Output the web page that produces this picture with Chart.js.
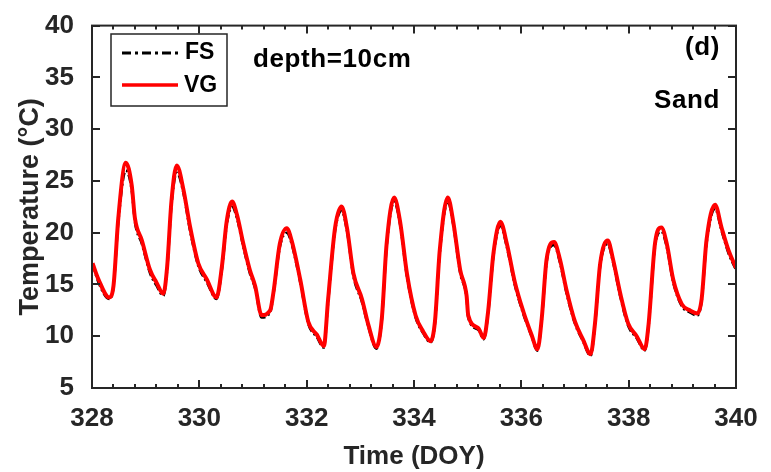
<!DOCTYPE html>
<html>
<head>
<meta charset="utf-8">
<script src="https://cdn.jsdelivr.net/npm/chart.js@4.4.1/dist/chart.umd.min.js"></script>
<style>
html, body { margin: 0; padding: 0; background: #fff; }
</style>
</head>
<body>
<canvas id="mainChart" width="771" height="472"></canvas>
<script>
// -----------------------------
// data
// -----------------------------
const doy = [
    328.01, 328.12, 328.32, 328.40, 328.49, 328.63, 328.74, 328.80, 328.93, 329.08,
    329.20, 329.33, 329.40, 329.48, 329.58, 329.70, 329.83, 329.98, 330.14, 330.32,
    330.42, 330.51, 330.61, 330.70, 330.82, 330.94, 331.04, 331.16, 331.32, 331.38,
    331.50, 331.63, 331.72, 331.88, 332.03, 332.19, 332.32, 332.40, 332.53, 332.65,
    332.75, 332.87, 333.03, 333.15, 333.30, 333.40, 333.49, 333.63, 333.74, 333.87,
    334.03, 334.17, 334.31, 334.39, 334.48, 334.63, 334.73, 334.86, 334.98, 335.01,
    335.20, 335.30, 335.38, 335.48, 335.61, 335.73, 335.88, 336.04, 336.19, 336.30,
    336.38, 336.47, 336.61, 336.72, 336.84, 337.00, 337.15, 337.29, 337.37, 337.47,
    337.61, 337.71, 337.84, 337.99, 338.15, 338.30, 338.37, 338.49, 338.61, 338.71,
    338.83, 338.99, 339.14, 339.28, 339.36, 339.45, 339.61, 339.73, 339.86, 340.00
];

const vgTemp = [
    17.05, 15.5, 13.75, 14.85, 21.4, 26.76, 24.57, 21.4, 19.24, 16.42,
    15.2, 14.1, 16.7, 23.0, 26.5, 24.26, 20.5, 17.05, 15.48, 13.75,
    16.7, 21.1, 23.0, 21.75, 18.93, 16.42, 14.85, 12.03, 12.5, 14.2,
    18.93, 20.43, 19.24, 15.48, 11.4, 10.15, 9.05, 13.6, 20.5, 22.53,
    20.5, 16.1, 13.6, 11.1, 8.96, 11.7, 18.93, 23.4, 21.1, 16.0,
    12.0, 10.46, 9.52, 11.4, 18.3, 23.4, 21.1, 16.42, 13.9, 12.03,
    10.77, 9.83, 12.34, 18.0, 21.06, 18.93, 15.2, 12.34, 10.15, 8.74,
    11.7, 17.4, 19.1, 17.4, 14.5, 11.4, 9.68, 8.27, 11.1, 17.05,
    19.24, 17.4, 14.2, 11.24, 10.0, 8.74, 11.1, 18.93, 20.5, 18.93,
    15.48, 13.1, 12.5, 12.2, 13.6, 19.24, 22.7, 20.5, 18.3, 16.6
];

const fsTemp = [
    17.0, 15.2, 13.6, 14.7, 21.0, 26.0, 24.1, 21.0, 18.9, 16.1,
    14.9, 13.9, 16.4, 22.6, 25.8, 23.9, 20.1, 16.8, 15.2, 13.6,
    16.4, 20.7, 22.5, 21.4, 18.6, 16.1, 14.6, 11.8, 12.3, 14.0,
    18.6, 20.0, 18.9, 15.2, 11.2, 9.9, 8.9, 13.3, 20.2, 22.1,
    20.2, 15.8, 13.3, 10.9, 8.8, 11.5, 18.6, 23.0, 20.8, 15.7,
    11.8, 10.3, 9.4, 11.2, 18.0, 23.0, 20.8, 16.1, 13.7, 11.8,
    10.6, 9.7, 12.1, 17.7, 20.7, 18.6, 14.9, 12.1, 10.0, 8.6,
    11.5, 17.1, 18.8, 17.1, 14.2, 11.2, 9.5, 8.1, 10.9, 16.8,
    18.9, 17.1, 13.9, 11.0, 9.8, 8.6, 10.9, 18.6, 20.1, 18.6,
    15.2, 12.9, 12.3, 12.0, 13.4, 18.9, 22.3, 20.2, 18.0, 16.4
];

const xTicks = [328, 330, 332, 334, 336, 338, 340];
const yTicks = [5, 10, 15, 20, 25, 30, 35, 40];
const xMinorStep = 0.4;

const FONT = "'Liberation Sans', Arial, sans-serif";
const AXIS = "#262626";

// -----------------------------
// frame, inward ticks, legend, labels
// -----------------------------
const framePlugin = {
    id: "frame",
    afterDatasetsDraw(chart) {
        const { ctx, chartArea: a, scales: { x, y } } = chart;
        ctx.save();
        ctx.strokeStyle = AXIS;
        ctx.lineWidth = 2;

        ctx.beginPath();
        for (let v = xTicks[0]; v <= xTicks[xTicks.length - 1] + 1e-6; v += xMinorStep) {
            const px = Math.round(x.getPixelForValue(v));
            const major = xTicks.some(t => Math.abs(t - v) < 1e-6);
            const len = major ? 8 : 4;
            ctx.moveTo(px, a.bottom); ctx.lineTo(px, a.bottom - len);
            ctx.moveTo(px, a.top); ctx.lineTo(px, a.top + len);
        }
        yTicks.forEach(v => {
            const py = Math.round(y.getPixelForValue(v));
            ctx.moveTo(a.left, py); ctx.lineTo(a.left + 8, py);
            ctx.moveTo(a.right, py); ctx.lineTo(a.right - 8, py);
        });
        ctx.stroke();
        ctx.strokeRect(a.left, a.top, a.right - a.left, a.bottom - a.top);

        // legend
        ctx.lineWidth = 1.5;
        ctx.strokeRect(111, 34, 116, 72);
        ctx.lineWidth = 3;
        ctx.strokeStyle = "#000";
        ctx.setLineDash([9, 4, 3, 4]);
        ctx.beginPath(); ctx.moveTo(122, 53); ctx.lineTo(179, 53); ctx.stroke();
        ctx.setLineDash([]);
        ctx.strokeStyle = "#ff0000";
        ctx.lineWidth = 3.5;
        ctx.beginPath(); ctx.moveTo(122, 85); ctx.lineTo(178, 85); ctx.stroke();

        ctx.fillStyle = "#000";
        ctx.font = "bold 23px " + FONT;
        ctx.textBaseline = "middle";
        ctx.textAlign = "left";
        ctx.fillText("FS", 185, 53);
        ctx.fillText("VG", 184, 86);

        ctx.font = "bold 26px " + FONT;
        ctx.textBaseline = "alphabetic";
        ctx.letterSpacing = "0.6px";
        ctx.fillText("depth=10cm", 253, 67);
        ctx.textAlign = "right";
        ctx.fillText("(d)", 720, 55);
        ctx.fillText("Sand", 720, 108);
        ctx.restore();
    }
};

const ctx = document.getElementById("mainChart");

new Chart(ctx, {
    type: "line",
    data: {
        datasets: [
            {
                label: "FS",
                data: doy.map((d, i) => ({ x: d, y: fsTemp[i] })),
                borderColor: "#000",
                borderWidth: 2.5,
                borderDash: [8, 3, 2, 3],
                pointRadius: 0,
                cubicInterpolationMode: "monotone",
                order: 2
            },
            {
                label: "VG",
                data: doy.map((d, i) => ({ x: d, y: vgTemp[i] })),
                borderColor: "#ff0000",
                borderWidth: 4,
                pointRadius: 0,
                cubicInterpolationMode: "monotone",
                order: 1
            }
        ]
    },
    options: {
        responsive: false,
        animation: false,
        layout: { padding: { left: 0, right: 35, top: 16, bottom: 0 } },
        plugins: { legend: { display: false }, tooltip: { enabled: false } },
        scales: {
            x: {
                type: "linear",
                min: 328,
                max: 340,
                afterBuildTicks: s => { s.ticks = xTicks.map(v => ({ value: v })); },
                afterFit: s => { s.height = 84; },
                grid: { display: false },
                border: { display: false },
                ticks: {
                    color: AXIS, padding: 7, maxRotation: 0, autoSkip: false,
                    font: { family: FONT, size: 26, weight: "bold" }
                },
                title: {
                    display: true, text: "Time (DOY)", color: AXIS,
                    font: { family: FONT, size: 26, weight: "bold" },
                    padding: { top: 0, bottom: 0 }
                }
            },
            y: {
                min: 5,
                max: 40,
                afterBuildTicks: s => { s.ticks = yTicks.map(v => ({ value: v })); },
                afterFit: s => { s.width = 92; },
                grid: { display: false },
                border: { display: false },
                ticks: {
                    color: AXIS, padding: 10,
                    font: { family: FONT, size: 26, weight: "bold" }
                },
                title: {
                    display: true, text: "Temperature (°C)", color: AXIS,
                    font: { family: FONT, size: 27, weight: "bold" },
                    padding: { top: 14, bottom: 0 }
                }
            }
        }
    },
    plugins: [framePlugin]
});
</script>
</body>
</html>
